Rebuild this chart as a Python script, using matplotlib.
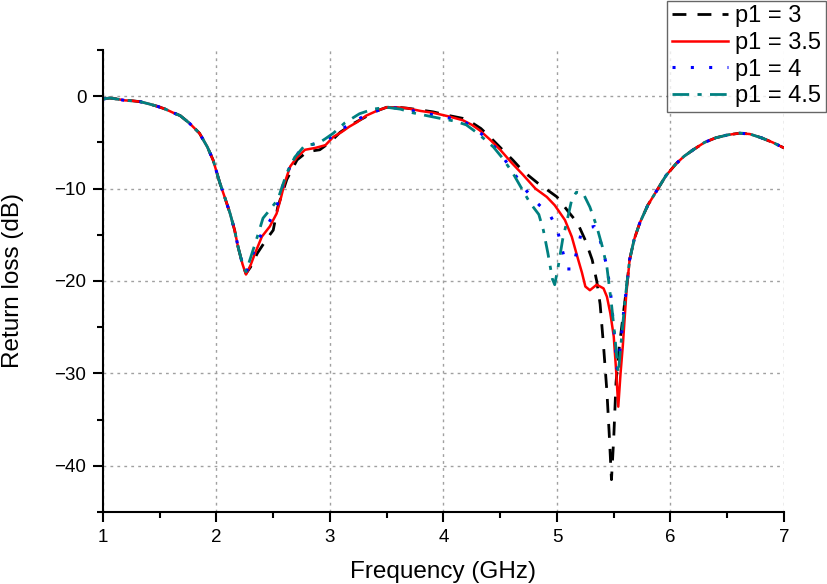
"""
Return loss vs frequency for different p1 values
"""
import numpy as np
import matplotlib
matplotlib.use("Agg")
import matplotlib.pyplot as plt

# shared part of all curves (below the first dip)
f_low = [1.00, 1.06, 1.12, 1.19, 1.26, 1.33, 1.41, 1.48, 1.55, 1.62, 1.68, 1.76,
         1.85, 1.92, 1.97, 2.03, 2.08, 2.12, 2.16, 2.19, 2.23]
rl_low = [-0.3, -0.2, -0.3, -0.45, -0.5, -0.6, -0.85, -1.1, -1.4, -1.8, -2.1, -2.9,
          -4.0, -5.5, -6.9, -9.4, -11.2, -12.7, -14.5, -16.3, -18.2]

# shared part of all curves (after the second dip)
f_high = [5.64, 5.68, 5.73, 5.80, 5.88, 5.96, 6.05, 6.12, 6.20, 6.30, 6.40, 6.50,
          6.61, 6.70, 6.80, 6.90, 7.00]
rl_high = [-17.7, -15.5, -13.7, -11.8, -10.2, -8.6, -7.3, -6.5, -5.8, -5.0, -4.5, -4.2,
           -4.0, -4.1, -4.5, -5.0, -5.6]

# p1 = 3
f_p3 = [2.26, 2.30, 2.36, 2.44, 2.50, 2.54, 2.62, 2.71, 2.80, 2.91, 3.00, 3.09, 3.20, 3.32,
        3.41, 3.50, 3.60, 3.68, 3.80, 3.91, 4.05, 4.17, 4.23, 4.33, 4.44, 4.52, 4.61,
        4.70, 4.83, 4.91, 5.00, 5.10, 5.18, 5.25, 5.31, 5.35, 5.38, 5.41, 5.44, 5.46,
        5.48, 5.50, 5.52, 5.55, 5.58, 5.61]
rl_p3 = [-19.2, -18.5, -17.0, -15.5, -14.5, -12.0, -9.0, -6.9, -6.0, -5.8, -5.0, -3.9, -3.0, -2.2,
         -1.6, -1.2, -1.2, -1.3, -1.5, -1.7, -2.1, -2.4, -2.7, -3.5, -4.8, -5.8, -6.9,
         -8.1, -9.4, -10.1, -10.9, -12.5, -13.7, -15.6, -17.7, -20.0, -22.5, -27.0, -32.0, -36.5,
         -41.5, -37.0, -31.0, -27.0, -24.0, -21.0]

# p1 = 3.5
f_p35 = [2.26, 2.30, 2.34, 2.40, 2.47, 2.53, 2.57, 2.60, 2.65, 2.71, 2.78, 2.87, 2.96,
         3.03, 3.10, 3.17, 3.24, 3.32, 3.41, 3.50, 3.59, 3.68, 3.80, 3.91, 4.05, 4.17,
         4.25, 4.32, 4.41, 4.50, 4.60, 4.70, 4.81, 4.91, 4.98, 5.07, 5.13, 5.18, 5.22,
         5.25, 5.29, 5.35, 5.41, 5.44, 5.47, 5.50, 5.52, 5.54, 5.56, 5.58, 5.61]
rl_p35 = [-19.3, -18.3, -17.0, -15.2, -14.1, -12.7, -10.9, -9.4, -7.6, -6.6, -5.8, -5.6, -5.3,
          -4.4, -3.9, -3.3, -2.8, -2.1, -1.6, -1.2, -1.2, -1.3, -1.6, -1.8, -2.2, -2.6,
          -3.1, -3.7, -4.7, -5.8, -7.2, -8.5, -10.0, -10.9, -11.8, -13.4, -15.2, -17.4, -19.1,
          -20.6, -21.0, -20.4, -20.8, -21.7, -23.5, -26.0, -29.5, -33.6, -30.0, -27.0, -21.5]

# p1 = 4
f_p4 = [2.26, 2.29, 2.34, 2.40, 2.47, 2.53, 2.60, 2.67, 2.76, 2.88, 3.00, 3.15, 3.32, 3.50,
        3.60, 3.70, 3.85, 3.95, 4.10, 4.20, 4.30, 4.40, 4.50, 4.60, 4.70, 4.82, 4.94,
        5.00, 5.03, 5.06, 5.09, 5.14, 5.17, 5.21, 5.25, 5.33, 5.38, 5.41, 5.44, 5.47,
        5.50, 5.53, 5.56, 5.59, 5.62]
rl_p4 = [-19.2, -18.0, -16.5, -14.8, -13.5, -12.0, -9.0, -7.0, -5.5, -5.1, -4.5, -3.2, -2.0, -1.2,
         -1.3, -1.5, -1.9, -2.1, -2.5, -2.9, -3.7, -4.8, -6.2, -7.9, -9.8, -11.5, -12.9,
         -14.3, -15.8, -17.3, -18.7, -18.7, -17.0, -15.0, -14.3, -14.1, -15.6, -16.9, -18.5, -21.0,
         -25.0, -29.5, -27.0, -23.0, -20.0]

# p1 = 4.5
f_p45 = [2.26, 2.30, 2.35, 2.41, 2.47, 2.54, 2.62, 2.69, 2.78, 2.85, 2.91, 2.96, 3.03, 3.13,
         3.26, 3.38, 3.50, 3.62, 3.73, 3.85, 3.97, 4.10, 4.20, 4.30, 4.44, 4.52, 4.61,
         4.68, 4.76, 4.84, 4.88, 4.92, 4.96, 4.98, 5.01, 5.05, 5.09, 5.13, 5.17, 5.23,
         5.29, 5.35, 5.40, 5.44, 5.48, 5.51, 5.54, 5.57, 5.60]
rl_p45 = [-19.0, -17.5, -15.6, -13.2, -12.3, -11.2, -8.3, -6.6, -5.3, -5.2, -5.0, -4.6, -4.0, -2.9,
          -1.9, -1.4, -1.2, -1.4, -1.8, -2.1, -2.4, -2.7, -3.1, -4.0, -5.5, -6.7, -8.3,
          -9.8, -11.5, -12.8, -14.5, -17.0, -19.8, -20.4, -18.5, -15.5, -13.4, -11.2, -10.4, -10.5,
          -12.0, -14.1, -16.3, -18.5, -22.5, -26.0, -30.0, -26.0, -22.0]


def full_curve(f_mid, rl_mid):
    f = np.array(f_low + f_mid + f_high)
    rl = np.array(rl_low + rl_mid + rl_high)
    return f, rl


def draw_plot():
    plt.rcParams['font.family'] = ['Liberation Sans', 'DejaVu Sans']
    fig = plt.figure(figsize=(8.27, 5.84), dpi=100)
    ax = fig.add_axes([0.1245, 0.1233, 0.8235, 0.7911])

    ax.grid(True, color="#a0a0a0", linestyle=(0, (2, 3)), linewidth=1.0)
    ax.set_axisbelow(True)

    f, rl = full_curve(f_p3, rl_p3)
    ax.plot(f, rl, color="black", linestyle=(0, (5, 4)), linewidth=2.0, label="p1 = 3")
    f, rl = full_curve(f_p35, rl_p35)
    ax.plot(f, rl, color="#ff0000", linestyle="-", linewidth=1.8, label="p1 = 3.5")
    f, rl = full_curve(f_p4, rl_p4)
    ax.plot(f, rl, color="#0000ff", linestyle=(0, (1, 5)), linewidth=2.2, label="p1 = 4")
    f, rl = full_curve(f_p45, rl_p45)
    ax.plot(f, rl, color="#008080", linestyle=(0, (6, 3, 1.5, 3)), linewidth=2.0,
            label="p1 = 4.5")

    ax.set_xlim(1, 7)
    ax.set_ylim(-45, 5)
    ax.set_xticks([1, 2, 3, 4, 5, 6, 7])
    ax.set_xticks(np.arange(1.5, 7, 1.0), minor=True)
    ax.set_yticks([-40, -30, -20, -10, 0])
    ax.set_yticks([-45, -35, -25, -15, -5, 5], minor=True)
    ax.tick_params(which="major", direction="out", length=7, width=1.5, labelsize=13.5, pad=5)
    ax.tick_params(which="minor", direction="out", length=4, width=1.5)

    for side in ["top", "right"]:
        ax.spines[side].set_visible(False)
    for side in ["left", "bottom"]:
        ax.spines[side].set_linewidth(1.5)

    ax.set_xlabel("Frequency (GHz)", fontsize=17.5, labelpad=11)
    ax.set_ylabel("Return loss (dB)", fontsize=17.5, labelpad=22)

    leg = fig.legend(loc="upper right", bbox_to_anchor=(0.999, 0.999), fontsize=17,
                     frameon=True, fancybox=False, edgecolor="#404040",
                     handlelength=2.4, handletextpad=0.3, labelspacing=0.2,
                     borderpad=0.2, borderaxespad=0)
    leg.get_frame().set_linewidth(1.0)

    fig.savefig("out.png", dpi=100)


def main():
    draw_plot()


if __name__ == "__main__":
    main()
